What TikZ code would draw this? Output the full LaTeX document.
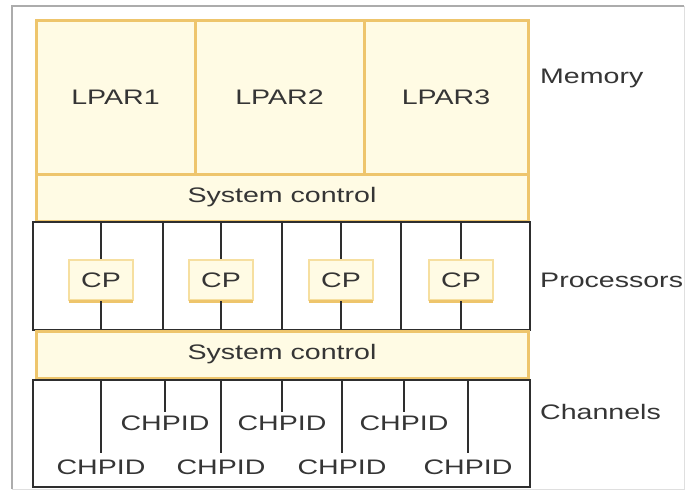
\documentclass[tikz,border=0pt]{standalone}
\usepackage{fontspec}
\usepackage{graphicx}
\setmainfont{Liberation Sans}
\newcommand\sx[1]{\scalebox{1.36}[1]{#1}}
\definecolor{orb}{HTML}{EEC56C}
\definecolor{orl}{HTML}{F6DFA0}
\definecolor{crm}{HTML}{FFFBE4}
\definecolor{txt}{HTML}{353535}
\definecolor{ink}{HTML}{2E2E2E}
\tikzset{
  lbl/.style={text=txt, font=\fontsize{21}{25}\selectfont, inner sep=0pt},
  mem/.style={draw=orb, fill=crm, line width=3pt, minimum height=154pt, lbl},
  sysc/.style={draw=orb, fill=crm, line width=3pt, minimum width=492pt, minimum height=47pt, lbl},
  cpbox/.style={draw=orl, fill=crm, line width=2.5pt, minimum width=64pt, minimum height=40pt, lbl},
  frame/.style={draw=ink, line width=2pt},
  wire/.style={draw=ink, line width=2pt},
}
\begin{document}
\begin{tikzpicture}[x=1pt,y=-1pt]
\useasboundingbox (0,0) rectangle (690,491);
\fill[white] (0,0) rectangle (690,491);
% outer frame
\draw[gray!25, line width=1pt] (684,6) -- (684,489) -- (12,489);
\draw[gray!65, line width=1.3pt] (12,489) -- (12,6) -- (684,6);
% memory
\node[mem, minimum width=159pt] (l1) at (115.5,97) {\sx{LPAR1}};
\node[mem, minimum width=169pt] (l2) at (279.5,97) {\sx{LPAR2}};
\node[mem, minimum width=164pt] (l3) at (446,97) {\sx{LPAR3}};
\node[sysc] (s1) at (282,197.5) {\sx{System control}};
% processors
\node[frame, minimum width=497pt, minimum height=108pt, inner sep=0pt] (pb) at (281.5,276) {};
\foreach \x in {163,282,401}{
  \draw[wire] (\x,222) -- (\x,330);
}
\foreach \i/\x in {1/101,2/221,3/341,4/461}{
  \coordinate (pt\i) at (\x,222);
  \coordinate (pbt\i) at (\x,330);
  \node[cpbox] (cp\i) at (\x,280) {\sx{CP}};
  \draw[orb, line width=3pt] ([xshift=1.5pt]cp\i.south west) -- ([xshift=-1.5pt]cp\i.south east);
  \draw[wire] (pt\i) -- (cp\i.north);
  \draw[wire] (cp\i.south) -- (pbt\i);
}
\node[sysc] (s2) at (282,354.5) {\sx{System control}};
% channels
\node[frame, minimum width=497pt, minimum height=107pt, inner sep=0pt] (cb) at (281.5,433.5) {};
\foreach \i/\x in {1/101,2/221,3/342,4/468}{
  \coordinate (ct\i) at (\x,380);
  \node[lbl] (lo\i) at (\x,467) {\sx{CHPID}};
  \draw[wire] (ct\i) -- ([yshift=6pt]lo\i.north);
}
\foreach \i/\x in {1/165,2/282,3/404}{
  \coordinate (cu\i) at (\x,380);
  \node[lbl] (up\i) at (\x,423) {\sx{CHPID}};
  \draw[wire] (cu\i) -- ([yshift=3pt]up\i.north);
}
% side labels
\node[lbl, anchor=west] (mlab) at (540,78) {\sx{Memory}};
\node[lbl, anchor=west] (plab) at (540,280) {\sx{Processors}};
\node[lbl, anchor=west] (clab) at (540,412) {\sx{Channels}};
\end{tikzpicture}
\end{document}
